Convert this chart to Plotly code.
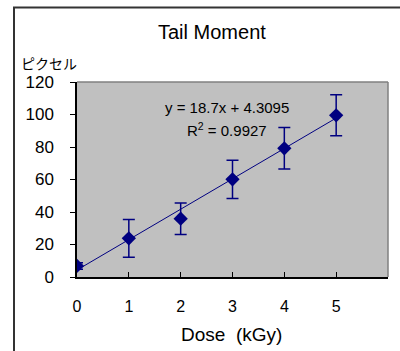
import plotly.graph_objects as go

dose = [0, 1, 2, 3, 4, 5]
tail_moment = [6.8, 23.8, 35.9, 60.1, 79.2, 99.5]
err = [2.0, 11.6, 9.7, 11.8, 12.8, 12.6]
slope = 18.7
intercept = 4.3095
r2 = 0.9927
x_ticks = [0, 1, 2, 3, 4, 5]
y_ticks = [0, 20, 40, 60, 80, 100, 120]

navy = "#000080"
font = "Liberation Sans, Arial, sans-serif"

fig = go.Figure()
fit_x = [dose[0], dose[-1]]
fit_y = [slope * v + intercept for v in fit_x]
fig.add_trace(go.Scatter(x=fit_x, y=fit_y, mode="lines",
                         line=dict(color=navy, width=1), hoverinfo="skip"))
fig.add_trace(go.Scatter(x=dose, y=tail_moment, mode="markers",
                         marker=dict(symbol="diamond", size=11, color=navy),
                         error_y=dict(type="data", array=err, visible=True,
                                      color=navy, thickness=1.5, width=6)))

L, R, T, B = 77, 12, 82, 74
W, H = 400, 351
pw, ph = W - L - R, H - T - B

def px(x):
    return (x - L) / pw

def py(y):
    return (H - B - y) / ph

def ann(text, x, y, size, xanchor="center", family=None):
    f = dict(size=size)
    if family:
        f["family"] = family
    return dict(text=text, xref="paper", yref="paper", x=px(x), y=py(y),
                xanchor=xanchor, yanchor="middle", showarrow=False, font=f)

fig.update_layout(
    width=W, height=H, margin=dict(l=L, r=R, t=T, b=B),
    paper_bgcolor="white", plot_bgcolor="#c0c0c0", showlegend=False,
    font=dict(family=font, size=15, color="black"),
    xaxis=dict(range=[0, 6], tickvals=x_ticks, ticks="inside", ticklen=5,
               tickcolor="black", tickwidth=1.2, showgrid=False, zeroline=False,
               showline=True, linecolor="black", linewidth=1.5,
               ticklabelstandoff=14, tickfont=dict(size=16), fixedrange=True),
    yaxis=dict(range=[0, 120], tickvals=y_ticks, ticks="outside", ticklen=5,
               tickcolor="black", tickwidth=1.2, showgrid=False, zeroline=False,
               showline=True, linecolor="black", linewidth=1.5,
               ticklabelstandoff=13, tickfont=dict(size=17), fixedrange=True),
    shapes=[
        dict(type="line", xref="paper", yref="paper", x0=0, x1=1, y0=1, y1=1,
             line=dict(color="#808080", width=1.5), layer="below"),
        dict(type="line", xref="paper", yref="paper", x0=1, x1=1, y0=0, y1=1,
             line=dict(color="#808080", width=1.5), layer="below"),
        dict(type="rect", xref="paper", yref="paper", x0=px(14), x1=px(420),
             y0=py(360), y1=py(7.5), line=dict(color="#333333", width=2)),
    ],
    annotations=[
        ann("Tail Moment", 212, 32, 20),
        ann("ピクセル", 19, 63, 14, xanchor="left", family="Noto Sans CJK JP"),
        ann("Dose\u00a0\u00a0(kGy)", 231, 334, 19),
        ann(f"y = {slope}x + {intercept}", 227, 107, 15),
        ann(f"R<sup>2</sup> = {r2}", 227, 129, 15),
    ],
)
fig.write_html("out.html")
